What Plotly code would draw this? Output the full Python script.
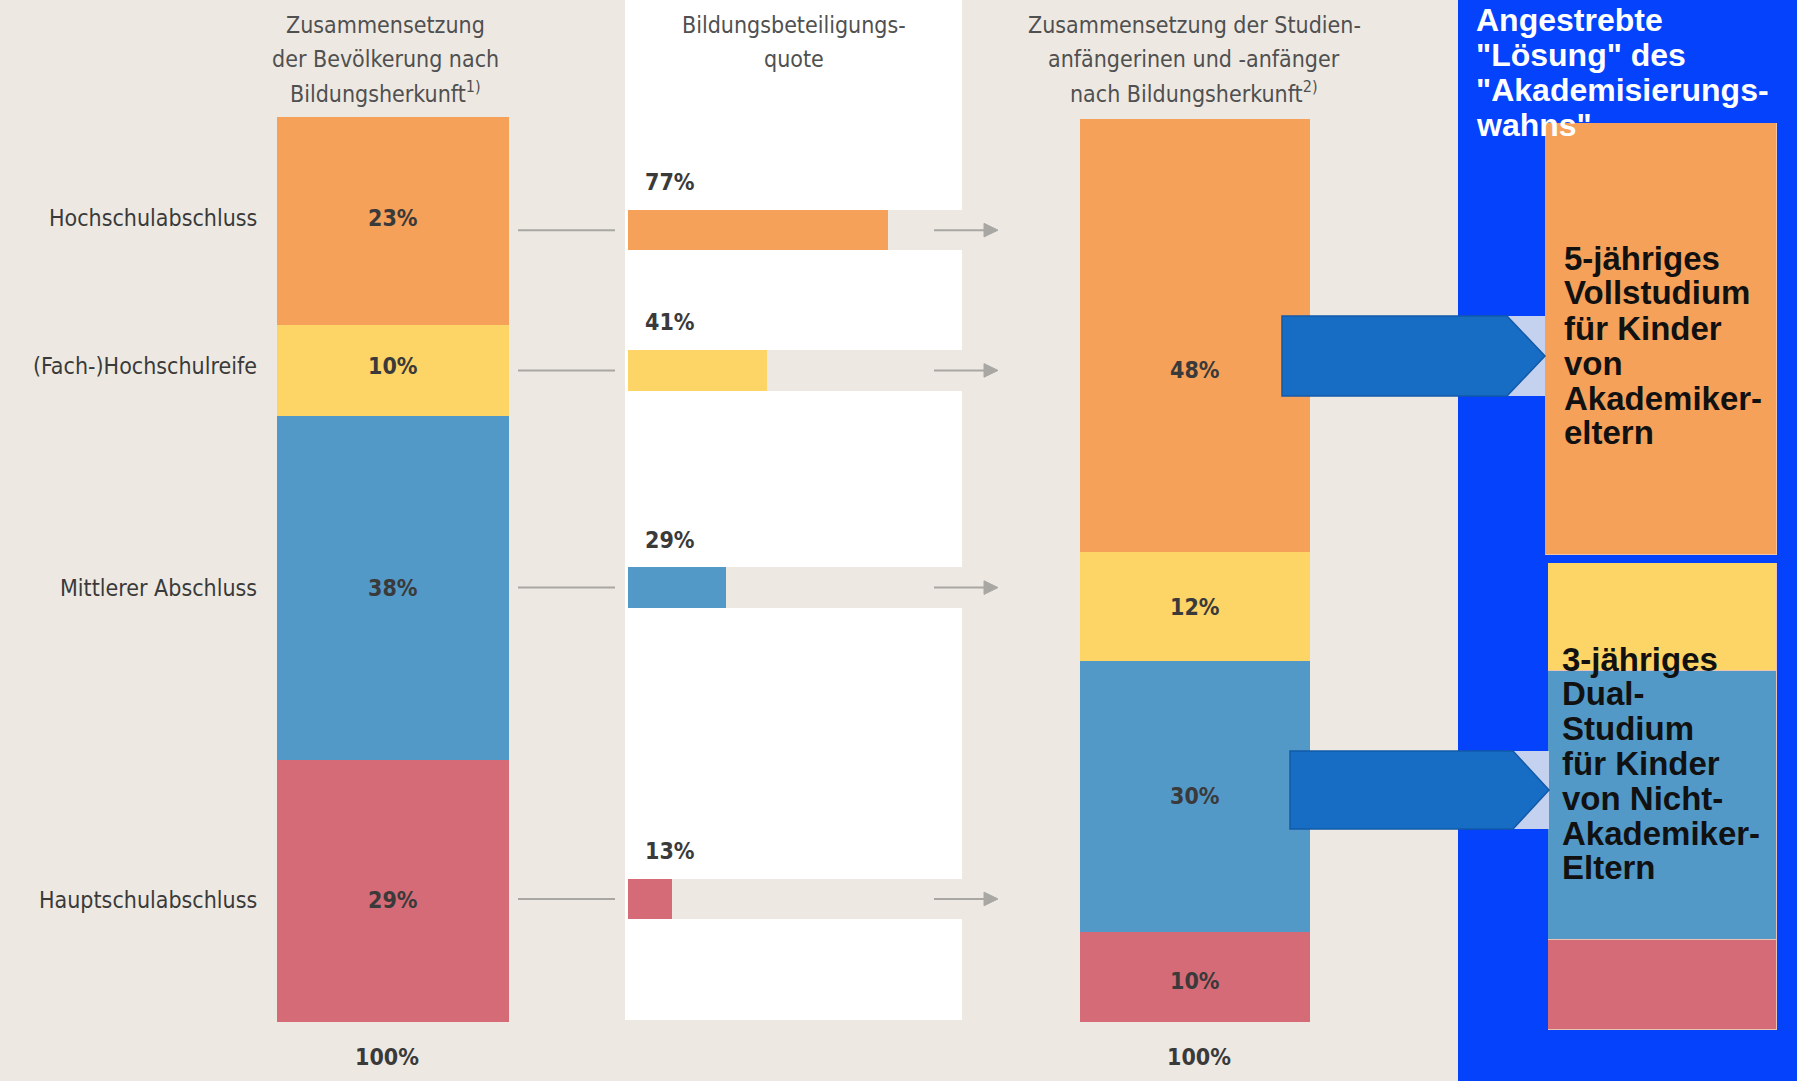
import plotly.graph_objects as go

# ---------------- data ----------------
categories = ["Hochschulabschluss", "(Fach-)Hochschulreife", "Mittlerer Abschluss", "Hauptschulabschluss"]
population_share = [23, 10, 38, 29]          # Zusammensetzung der Bevölkerung
participation_rate = [77, 41, 29, 13]        # Bildungsbeteiligungsquote
freshmen_share = [48, 12, 30, 10]            # Zusammensetzung der Studienanfänger
colors = ["#f5a15a", "#fdd466", "#5299c8", "#d66b78"]

header_left = ["Zusammensetzung", "der Bevölkerung nach", "Bildungsherkunft<sup>1)</sup>"]
header_mid = ["Bildungsbeteiligungs-", "quote"]
header_right = ["Zusammensetzung der Studien-", "anfängerinen und -anfänger", "nach Bildungsherkunft<sup>2)</sup>"]
total_label = "100%"
panel_title = ["Angestrebte", "\"Lösung\" des", "\"Akademisierungs-", "wahns\""]
box1_text = ["5-jähriges", "Vollstudium", "für Kinder", "von", "Akademiker-", "eltern"]
box2_text = ["3-jähriges", "Dual-", "Studium", "für Kinder", "von Nicht-", "Akademiker-", "Eltern"]

# ---------------- layout / style ----------------
W, H = 1797, 1081
BG = "#ede9e2"
TXT = "#3a3a3a"
COND = "Liberation Sans Narrow, DejaVu Sans Condensed, Roboto Condensed, Arial Narrow, Open Sans, sans-serif"
ARIAL = "Liberation Sans, Arial, Helvetica, sans-serif"
row_shift = [-1.0, 0.0, 0.0, -0.9]        # small vertical nudges of the middle rows (y units)
label_shift = [0.3, 0.5, 0.0, -1.0]       # nudges of the category labels (y units)
right_label_frac = [0.42, 0.5, 0.5, 0.45]  # label position within each right-bar segment


def px(x):
    return x / W


def py(y):
    return 1 - y / H


fig = go.Figure()

# cumulative segment centres (from top) for the left stack
centers = []
acc = 0
for v in population_share:
    centers.append(100 - acc - v / 2)
    acc += v
rows = [c + s for c, s in zip(centers, row_shift)]
label_rows = [c + s for c, s in zip(centers, label_shift)]

# ---- left stacked bar (population) ----
for cat, v, c in reversed(list(zip(categories, population_share, colors))):
    fig.add_trace(go.Bar(x=[0], y=[v], name=cat, marker=dict(color=c, line=dict(width=0)),
                         width=1, xaxis="x", yaxis="y", showlegend=False, hoverinfo="skip"))

# ---- middle: participation rates (value + remaining track up to 100 %) ----
fig.add_trace(go.Bar(x=participation_rate, y=rows, orientation="h", width=4.5,
                     marker=dict(color=colors, line=dict(width=0)), xaxis="x2", yaxis="y2",
                     showlegend=False, hoverinfo="skip"))
fig.add_trace(go.Bar(x=[100 - v for v in participation_rate], y=rows, orientation="h", width=4.5,
                     marker=dict(color=BG, line=dict(width=0)), xaxis="x2", yaxis="y2",
                     showlegend=False, hoverinfo="skip"))

# ---- right stacked bar (freshmen) ----
for cat, v, c in reversed(list(zip(categories, freshmen_share, colors))):
    fig.add_trace(go.Bar(x=[0], y=[v], name=cat, marker=dict(color=c, line=dict(width=0)),
                         width=1, xaxis="x3", yaxis="y3", showlegend=False, hoverinfo="skip"))

# ---- right panel: academic box and non-academic stack ----
fig.add_trace(go.Bar(x=[0], y=[freshmen_share[0]], width=1,
                     marker=dict(color=colors[0], line=dict(color="#f2c6a4", width=1.5)),
                     xaxis="x4", yaxis="y4", showlegend=False, hoverinfo="skip"))
for v, c in reversed(list(zip(freshmen_share[1:], colors[1:]))):
    fig.add_trace(go.Bar(x=[0], y=[v], width=1,
                         marker=dict(color=c, line=dict(color="#e9c4b4", width=1)),
                         xaxis="x5", yaxis="y5", showlegend=False, hoverinfo="skip"))

ax_hidden = dict(visible=False, fixedrange=True)
fig.update_layout(
    width=W, height=H, margin=dict(l=0, r=0, t=0, b=0),
    paper_bgcolor=BG, plot_bgcolor="rgba(0,0,0,0)",
    barmode="stack", bargap=0,
    xaxis=dict(ax_hidden, domain=[px(277), px(509)], range=[-0.5, 0.5]),
    yaxis=dict(ax_hidden, domain=[py(1022), py(117)], range=[0, 100]),
    xaxis2=dict(ax_hidden, domain=[px(628), px(966)], range=[0, 100]),
    yaxis2=dict(ax_hidden, domain=[py(1022), py(117)], range=[0, 100]),
    xaxis3=dict(ax_hidden, domain=[px(1080), px(1310)], range=[-0.5, 0.5]),
    yaxis3=dict(ax_hidden, domain=[py(1022), py(119)], range=[0, 100]),
    xaxis4=dict(ax_hidden, domain=[px(1545), px(1777)], range=[-0.5, 0.5]),
    yaxis4=dict(ax_hidden, domain=[py(555), py(123)], range=[0, freshmen_share[0]]),
    xaxis5=dict(ax_hidden, domain=[px(1548), px(1777)], range=[-0.5, 0.5]),
    yaxis5=dict(ax_hidden, domain=[py(1030), py(563)], range=[0, sum(freshmen_share[1:])]),
)

shapes = []
annotations = []

# white middle panel and blue right panel
shapes.append(dict(type="rect", xref="paper", yref="paper", x0=px(625), x1=px(962), y0=py(1020), y1=1,
                   fillcolor="white", line=dict(width=0), layer="below"))
shapes.append(dict(type="rect", xref="paper", yref="paper", x0=px(1458), x1=1, y0=0, y1=1,
                   fillcolor="#0442fb", line=dict(width=0), layer="below"))

# connector lines and small arrows
GRAY = "#a9a7a3"
for cy in rows:
    shapes.append(dict(type="line", xref="paper", yref="y2", x0=px(518), x1=px(615), y0=cy, y1=cy,
                       line=dict(color=GRAY, width=2)))
    shapes.append(dict(type="line", xref="paper", yref="y2", x0=px(934), x1=px(988), y0=cy, y1=cy,
                       line=dict(color=GRAY, width=2)))
    shapes.append(dict(type="path", xref="paper", yref="y2",
                       path=f"M {px(984)} {cy + 0.75} L {px(998)} {cy} L {px(984)} {cy - 0.75} Z",
                       fillcolor=GRAY, line=dict(color=GRAY, width=1)))

# participation labels
for cy, v in zip(rows, participation_rate):
    annotations.append(dict(xref="x2", yref="y2", x=4.5, y=cy + 5.3, text=f"<b>{v}%</b>",
                            showarrow=False, xanchor="left", yanchor="middle",
                            font=dict(family=COND, size=23, color=TXT)))

# category labels and left bar segment labels
for cy, cat, v in zip(label_rows, categories, population_share):
    annotations.append(dict(xref="paper", yref="y", x=px(259), y=cy, text=cat, showarrow=False,
                            xanchor="right", yanchor="middle",
                            font=dict(family=COND, size=23, color=TXT)))
    annotations.append(dict(xref="x", yref="y", x=0, y=cy, text=f"<b>{v}%</b>", showarrow=False,
                            xanchor="center", yanchor="middle",
                            font=dict(family=COND, size=23, color=TXT)))

# right bar segment labels
acc = 100
for v, f in zip(freshmen_share, right_label_frac):
    bottom = acc - v
    annotations.append(dict(xref="x3", yref="y3", x=0, y=bottom + v * f, text=f"<b>{v}%</b>",
                            showarrow=False, xanchor="center", yanchor="middle",
                            font=dict(family=COND, size=23, color=TXT)))
    acc = bottom

# headers
for lines, xc in [(header_left, 385), (header_mid, 794), (header_right, 1194)]:
    for i, t in enumerate(lines):
        annotations.append(dict(xref="paper", yref="paper", x=px(xc), y=py(25 + 33.5 * i), text=t,
                                showarrow=False, xanchor="center", yanchor="middle",
                                font=dict(family=COND, size=23, color="#505050")))

# 100% totals
for xc in (387, 1199):
    annotations.append(dict(xref="paper", yref="paper", x=px(xc), y=py(1057), text=f"<b>{total_label}</b>",
                            showarrow=False, xanchor="center", yanchor="middle",
                            font=dict(family=COND, size=23, color=TXT)))


# block arrows
def block_arrow(x0, x1, xh, y0, y1):
    ym = (y0 + y1) / 2
    shapes.append(dict(type="rect", xref="paper", yref="paper", x0=px(xh), x1=px(x1), y0=py(y1), y1=py(y0),
                       fillcolor="#c4d2ef", line=dict(width=0), layer="above"))
    path = (f"M {px(x0)} {py(y0)} L {px(xh)} {py(y0)} L {px(x1)} {py(ym)} "
            f"L {px(xh)} {py(y1)} L {px(x0)} {py(y1)} Z")
    shapes.append(dict(type="path", xref="paper", yref="paper", path=path,
                       fillcolor="#176cc4", line=dict(color="#1259a8", width=1.5), layer="above"))


block_arrow(1282, 1545, 1507, 316, 396)
block_arrow(1290, 1549, 1513, 751, 829)

# panel title and box texts
for i, t in enumerate(panel_title):
    annotations.append(dict(xref="paper", yref="paper", x=px(1474), y=py(20 + 35 * i), text=f"<b>{t}</b>",
                            showarrow=False, xanchor="left", yanchor="middle",
                            font=dict(family=ARIAL, size=32, color="white")))
for i, t in enumerate(box1_text):
    annotations.append(dict(xref="paper", yref="paper", x=px(1562), y=py(258 + 35 * i), text=f"<b>{t}</b>",
                            showarrow=False, xanchor="left", yanchor="middle",
                            font=dict(family=ARIAL, size=33, color="#111111")))
for i, t in enumerate(box2_text):
    annotations.append(dict(xref="paper", yref="paper", x=px(1560), y=py(659 + 34.8 * i), text=f"<b>{t}</b>",
                            showarrow=False, xanchor="left", yanchor="middle",
                            font=dict(family=ARIAL, size=33, color="#111111")))

fig.update_layout(shapes=shapes, annotations=annotations)
fig.write_html("out.html", config={"displayModeBar": False},
               post_script="document.body.style.margin='0';")
